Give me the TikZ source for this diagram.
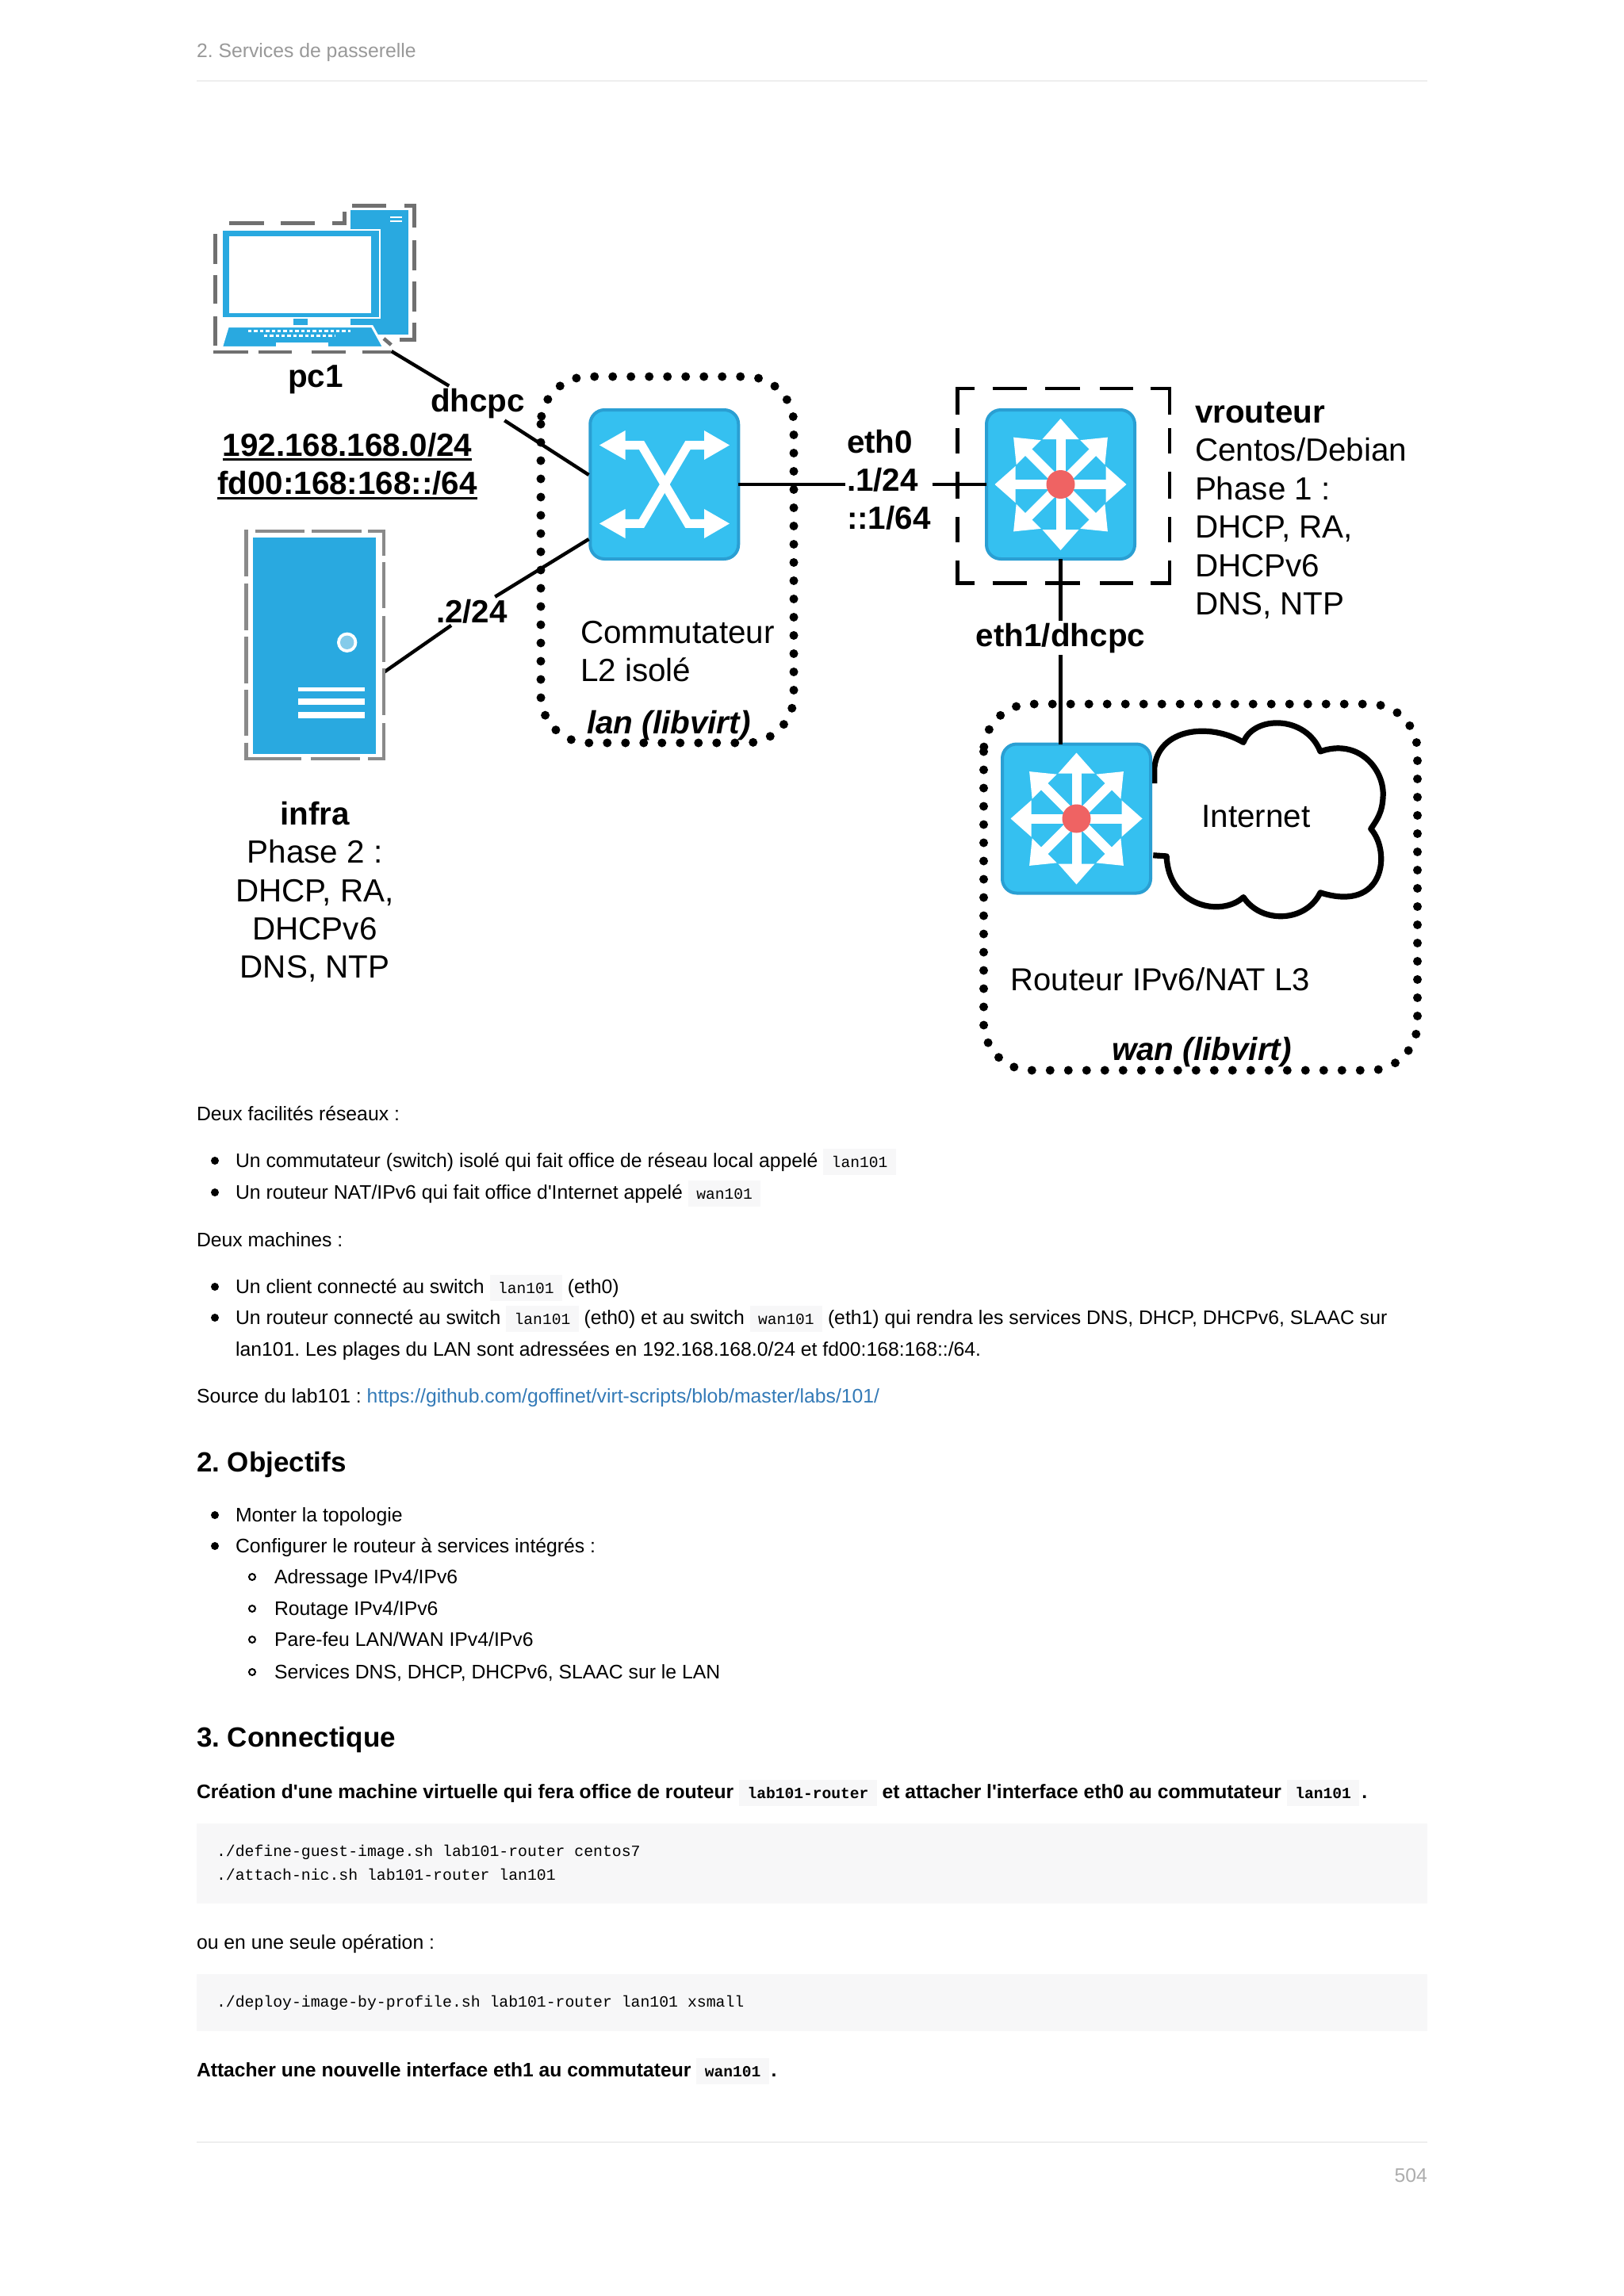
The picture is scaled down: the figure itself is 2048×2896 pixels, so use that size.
\documentclass[tikz,border=0pt]{standalone}
\usepackage{fontspec}
\setmainfont{Liberation Sans}[Ligatures=TeXOff]
\setmonofont{Liberation Mono}[Ligatures=TeXOff]
\frenchspacing
\definecolor{codebg}{HTML}{F7F7F8}
\definecolor{swfill}{HTML}{35C0F0}
\definecolor{swedge}{HTML}{2A9FD3}
\definecolor{hostblue}{HTML}{29A9E0}
\definecolor{framegray}{HTML}{707070}
\definecolor{framegrayb}{HTML}{8A8A8A}
\definecolor{ledblue}{HTML}{85CBEA}
\definecolor{redled}{HTML}{EF6363}
\definecolor{linkblue}{HTML}{337AB7}
\definecolor{headgray}{HTML}{999999}
\definecolor{rulegray}{HTML}{EEEEEE}
\newcommand\cod[1]{{\setlength{\fboxsep}{0pt}\colorbox{codebg}{\rule[-5pt]{0pt}{16.7pt}\hspace{5.2pt}{\ttfamily\fontsize{9.8}{12}\selectfont #1}\hspace{5.2pt}}}}
\newcommand\disc[1]{\fill (271,#1) circle (5);}
\newcommand\ring[1]{\draw[line width=1pt] (318,#1) circle (4);}
\tikzset{
  x=0.5pt,y=-0.5pt,
  txt/.style={anchor=base west,inner sep=0pt,outer sep=0pt,font=\fontsize{12.38}{15}\selectfont},
  txtb/.style={txt,font=\fontsize{12.33}{15}\selectfont\bfseries},
  big/.style={anchor=base west,inner sep=0pt,outer sep=0pt,font=\fontsize{20.2}{24.15}\selectfont},
  bigb/.style={big,font=\fontsize{20.2}{24.15}\selectfont\bfseries},
  bigbi/.style={big,font=\fontsize{20.2}{24.15}\selectfont\bfseries\itshape},
  cutlabel/.style={bigb,fill=white,inner sep=1.5pt},
  head/.style={txt,font=\fontsize{17.5}{20}\selectfont\bfseries},
  codetxt/.style={txt,font=\fontsize{9.9}{12}\selectfont\ttfamily},
  iconbox/.style={draw=swedge,fill=swfill,line width=2pt,rounded corners=9pt,inner sep=0pt,outer sep=0pt},
  wire/.style={line width=2.2pt,black},
  grayframe/.style={draw=framegray,line width=2.3pt},
  grayframeb/.style={draw=framegrayb,line width=2.3pt},
  blackframe/.style={draw=black,line width=2.2pt},
  dotbox/.style={draw=black,line width=5.5pt,line cap=round,dash pattern=on 0pt off 11.5pt,rounded corners=30pt},
  routericon/.pic={
    \foreach \a in {0,90,180,270}{
      \begin{scope}[rotate=\a]
        \fill[white] (83,0)--(57,-23)--(57,23)--cycle;
        \draw[white,line width=6pt] (0,0)--(60,0);
      \end{scope}}
    \foreach \a in {45,135,225,315}{
      \begin{scope}[rotate=\a]
        \fill[white] (84,0)--(57,-22)--(57,22)--cycle;
        \draw[white,line width=6pt] (0,0)--(60,0);
      \end{scope}}
    \fill[redled] (0,0) circle (18);
  }
}
\begin{document}
\begin{tikzpicture}
\useasboundingbox[fill=white] (0,0) rectangle (2048,2896);

% page furniture
\node[txt,text=headgray] (hdr) at (248,72) {2. Services de passerelle};
\draw[rulegray,line width=1pt] (248,101.5) -- (1800,101.5);
\draw[rulegray,line width=1pt] (248,2702) -- (1800,2702);
\node[txt,anchor=base east,text=headgray!80] (pageno) at (1800,2752) {504};

% connection points
\coordinate (pcport) at (493.6,443);
\coordinate (swa) at (742.5,599);
\coordinate (infraport) at (484,848);
\coordinate (swb) at (742.5,680);

% pc1
\fill[hostblue] (441.7,265) rectangle (515,421.7);
\draw[white,line width=1pt] (492,273.6) -- (507,273.6) (492,279.4) -- (507,279.4);
\fill[white] (436,288.5) rectangle (480,401.5);
\fill[hostblue] (280.7,291) rectangle (477.7,400);
\fill[white] (289,298) rectangle (468,395);
\fill[hostblue] (370,401.7) rectangle (388.3,411);
\draw[white,line width=1.5pt,fill=hostblue] (287.3,411.7) -- (469.3,411.7) -- (484,438.3) -- (279.3,438.3) -- cycle;
\fill[white] (470,439) rectangle (515,445);
\draw[white,line width=1.6pt,dash pattern=on 2.2pt off 1.5pt] (313,417.7) -- (441.7,417.7);
\draw[white,line width=1.6pt,dash pattern=on 2.2pt off 1.5pt] (332.7,423.3) -- (423.3,423.3);
\fill[white] (348,431.7) rectangle (414,437.3);
\node[bigb,anchor=base] (pclabel) at (398,488) {pc1};

% infra
\fill[hostblue] (319.3,678.3) rectangle (474.3,950.7);
\fill[white] (437.7,810.3) circle (12.7);
\fill[ledblue] (437.7,810.3) circle (8.7);
\fill[white] (375.7,867) rectangle (460,872);
\fill[white] (375.7,881) rectangle (460,888.7);
\fill[white] (375.7,898) rectangle (460,906);
\node[big,anchor=base] (inf0) at (397,1040) {\bfseries infra};
\node[big,anchor=base] (inf1) at (397,1088) {Phase 2 :};
\node[big,anchor=base] (inf2) at (397,1137) {DHCP, RA,};
\node[big,anchor=base] (inf3) at (397,1185) {DHCPv6};
\node[big,anchor=base] (inf4) at (397,1233) {DNS, NTP};

\node[bigb,anchor=base] (net4) at (438,575) {192.168.168.0/24};
\node[bigb,anchor=base] (net6) at (438,623.6) {fd00:168:168::/64};
\draw[line width=1.6pt] ([yshift=-2.3pt]net4.base west) -- ([yshift=-2.3pt]net4.base east);
\draw[line width=1.6pt] ([yshift=-2.3pt]net6.base west) -- ([yshift=-2.3pt]net6.base east);

% networks
\draw[dotbox] (682,475) rectangle (1001,937);
\draw[dotbox] (1240.5,888) rectangle (1787.5,1350);

% switch
\node[iconbox,minimum width=93.5pt,minimum height=94pt] (sw) at (837.75,611) {};
\begin{scope}[white,line width=5.5pt]
  \draw (788,561.5) -- (809,561.5) -- (867.5,660.4) -- (888,660.4);
  \draw (788,660.4) -- (809,660.4) -- (867.5,561.5) -- (888,561.5);
\end{scope}
\fill[white] (756,561.5) -- (788.5,543) -- (788.5,580) -- cycle;
\fill[white] (756,660.4) -- (788.5,642) -- (788.5,679) -- cycle;
\fill[white] (920,561.5) -- (888,543) -- (888,580) -- cycle;
\fill[white] (920,660.4) -- (888,642) -- (888,679) -- cycle;

% vrouteur
\node[iconbox,minimum width=93.5pt,minimum height=94pt] (vr) at (1337.5,611) {};
\pic at (vr.center) {routericon};

% internet router and cloud
\begin{scope}[shift={(1040,460)},x=0.2551pt,y=-0.287pt]
  \draw[line width=3.6pt,fill=white,line join=round] (815,920) -- (815,885)
    .. controls (825,800) and (950,785) .. (1035,830)
    .. controls (1060,770) and (1190,770) .. (1225,850)
    .. controls (1320,820) and (1385,890) .. (1380,950)
    .. controls (1378,985) and (1365,1000) .. (1350,1020)
    .. controls (1400,1070) and (1385,1205) .. (1225,1160)
    .. controls (1190,1225) and (1080,1230) .. (1035,1170)
    .. controls (980,1215) and (850,1190) .. (845,1080) -- (812,1078);
\end{scope}
\node[iconbox,minimum width=93.5pt,minimum height=94pt] (wr) at (1357.5,1032.5) {};
\pic at (wr.center) {routericon};

% connectors
\node[cutlabel] (dh) at (540,519) {dhcpc};
\draw[wire] (pcport) -- (dh);
\draw[wire] (dh) -- (swa);
\node[cutlabel] (ip2) at (547,785) {.2/24};
\draw[wire] (infraport) -- (ip2);
\draw[wire] (ip2) -- (swb);
\node[bigb,align=left,fill=white,inner sep=1pt,anchor=north west] (eth) at (1066,540) {eth0\\.1/24\\::1/64};
\draw[wire] (sw.east) -- (eth.west |- sw.east);
\draw[wire] (eth.east |- vr.west) -- (vr.west);
\node[cutlabel,anchor=base] (e1) at (1337.5,815) {eth1/dhcpc};
\draw[wire] (vr.south) -- (e1);
\draw[wire] (e1) -- (e1 |- wr.north);

% dashed frames
\begin{scope}[grayframe]
  \draw (289.3,281.7) -- (333.3,281.7) (354,281.7) -- (397.3,281.7);
  \draw (419.3,281.7) -- (434.3,281.7) -- (434.3,267);
  \draw (444,259.3) -- (486.7,259.3);
  \draw (510,259.3) -- (522.7,259.3) -- (522.7,287);
  \draw (522.7,303) -- (522.7,340.7) (522.7,355) -- (522.7,393);
  \draw (522.7,406.7) -- (522.7,428.3) -- (504,428.3);
  \draw (484,427) -- (493.3,435);
  \draw (269.3,444) -- (312.7,444) (325.7,444) -- (368,444) (392.7,444) -- (435.7,444) (457.3,444) -- (493.3,444);
  \draw (271.3,295) -- (271.3,332.7) (271.3,346.7) -- (271.3,383.3) (271.3,399) -- (271.3,436);
\end{scope}
\begin{scope}[grayframeb]
  \draw (310.3,668) -- (310.3,726.7) (310.3,736) -- (310.3,795) (310.3,803.3) -- (310.3,861.7) (310.3,870) -- (310.3,928.3);
  \draw (310.3,936.7) -- (310.3,957) -- (380.3,957);
  \draw (391.7,957) -- (453.7,957);
  \draw (464.3,957) -- (484,957) -- (484,911.7);
  \draw (321.7,670) -- (384.3,670) (393.3,670) -- (455.7,670);
  \draw (464.3,670) -- (484,670) -- (484,701);
  \draw (484,708.7) -- (484,766.7) (484,776.7) -- (484,834.7) (484,843.3) -- (484,902);
\end{scope}
\begin{scope}[blackframe]
  \draw (1228.8,490) -- (1207.3,490) -- (1207.3,523);
  \draw (1450.7,490) -- (1474.7,490) -- (1474.7,523);
  \draw (1228.8,735.5) -- (1207.3,735.5) -- (1207.3,706.8);
  \draw (1450.7,735.5) -- (1474.7,735.5) -- (1474.7,706.8);
  \foreach \yy in {490,735.5}{
    \draw (1251.7,\yy) -- (1295,\yy) (1318,\yy) -- (1362.4,\yy) (1387,\yy) -- (1428.8,\yy);}
  \foreach \xx in {1207.3,1474.7}{
    \draw (\xx,540) -- (\xx,572) (\xx,595) -- (\xx,629.3) (\xx,652.3) -- (\xx,684);}
\end{scope}

% diagram texts
\node[big] (c1) at (732,811) {Commutateur};
\node[big] (c2) at (732,859) {L2 isolé};
\node[bigbi] (lanl) at (740,925) {lan (libvirt)};
\node[bigb] (vr0) at (1507,533.5) {vrouteur};
\node[big] (vr1) at (1507,581.7) {Centos/Debian};
\node[big] (vr2) at (1507,630) {Phase 1 :};
\node[big] (vr3) at (1507,678) {DHCP, RA,};
\node[big] (vr4) at (1507,727) {DHCPv6};
\node[big] (vr5) at (1507,775.7) {DNS, NTP};
\node[big] (inet) at (1515.5,1043) {Internet};
\node[big,font=\fontsize{20}{24}\selectfont] (rt6) at (1274.7,1249.5) {Routeur IPv6/NAT L3};
\node[bigbi] (wanl) at (1402,1337) {wan (libvirt)};

% body text
\node[txt] (p1) at (248,1413) {Deux facilités réseaux :};
\disc{1464}\node[txt] (l1) at (297,1472) {Un commutateur (switch) isolé qui fait office de réseau local appelé \cod{lan101}};
\disc{1504}\node[txt] (l2) at (297,1512) {Un routeur NAT/IPv6 qui fait office d'Internet appelé \cod{wan101}};
\node[txt] (p2) at (248,1572) {Deux machines :};
\disc{1623}\node[txt] (l3) at (297,1631) {Un client connecté au switch \cod{lan101} (eth0)};
\disc{1662}\node[txt] (l4) at (297,1670) {Un routeur connecté au switch \cod{lan101} (eth0) et au switch \cod{wan101} (eth1) qui rendra les services DNS, DHCP, DHCPv6, SLAAC sur};
\node[txt] (l5) at (297,1710) {lan101. Les plages du LAN sont adressées en 192.168.168.0/24 et fd00:168:168::/64.};
\node[txt] (p3) at (248,1769) {Source du lab101 : \textcolor{linkblue}{https://github.com/goffinet/virt-scripts/blob/master/labs/101/}};
\node[head] (h2) at (248,1856) {2. Objectifs};
\disc{1911}\node[txt] (o1) at (297,1919) {Monter la topologie};
\disc{1950}\node[txt] (o2) at (297,1958) {Configurer le routeur à services intégrés :};
\ring{1989}\node[txt] (o3) at (346,1997) {Adressage IPv4/IPv6};
\ring{2029}\node[txt] (o4) at (346,2037) {Routage IPv4/IPv6};
\ring{2068}\node[txt] (o5) at (346,2076) {Pare-feu LAN/WAN IPv4/IPv6};
\ring{2109}\node[txt] (o6) at (346,2117) {Services DNS, DHCP, DHCPv6, SLAAC sur le LAN};
\node[head] (h3) at (248,2203) {3. Connectique};
\node[txtb] (b1) at (248,2268) {Création d'une machine virtuelle qui fera office de routeur \cod{lab101-router} et attacher l'interface eth0 au commutateur \cod{lan101}\hspace{1.5pt}.};
\fill[codebg] (248,2300) rectangle (1800,2401);
\node[codetxt] (c1l) at (273,2341) {./define-guest-image.sh lab101-router centos7};
\node[codetxt] (c2l) at (273,2371) {./attach-nic.sh lab101-router lan101};
\node[txt] (p4) at (248,2458) {ou en une seule opération :};
\fill[codebg] (248,2490) rectangle (1800,2562);
\node[codetxt] (c3l) at (273,2531) {./deploy-image-by-profile.sh lab101-router lan101 xsmall};
\node[txtb] (b2) at (248,2619) {Attacher une nouvelle interface eth1 au commutateur \cod{wan101}\hspace{1.5pt}.};
\end{tikzpicture}
\end{document}
